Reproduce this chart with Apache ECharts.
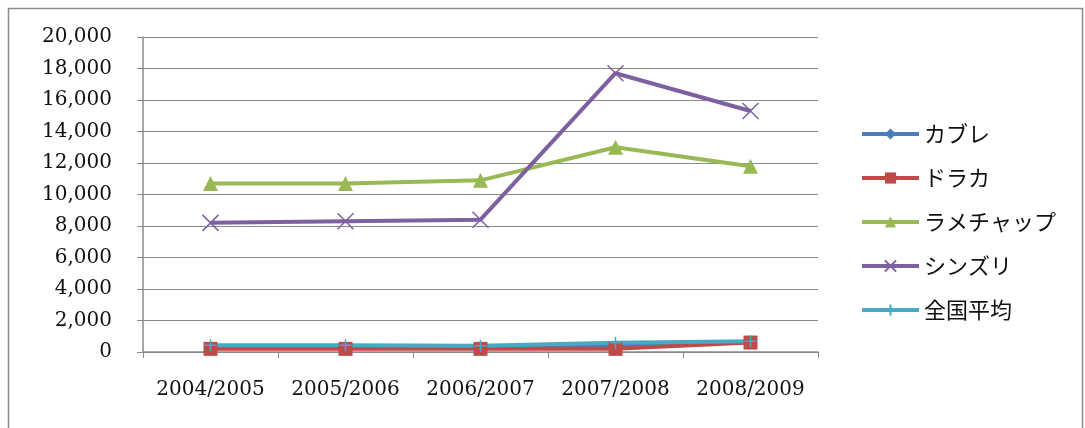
<!DOCTYPE html>
<html>
<head>
<meta charset="utf-8">
<script src="https://cdn.jsdelivr.net/npm/echarts@6/dist/echarts.min.js"></script>
<style>
html,body{margin:0;padding:0;background:#fff;}
#chart{width:1085px;height:428px;}
</style>
</head>
<body>
<div id="chart"></div>
<script>
const categories = ['2004/2005', '2005/2006', '2006/2007', '2007/2008', '2008/2009'];
const seriesNames = ['カブレ', 'ドラカ', 'ラメチャップ', 'シンズリ', '全国平均'];
const kabure = [350, 340, 330, 420, 650];
const doraka = [200, 200, 200, 200, 600];
const ramechap = [10700, 10700, 10900, 13000, 11800];
const sindhuli = [8200, 8300, 8400, 17700, 15300];
const national = [430, 430, 400, 580, 680];
const yTicks = [0, 20000, 2000];

const colors = ['#4A7EBB', '#BE4B48', '#98B954', '#7D60A0', '#46AAC5'];
const symbols = ['diamond', 'rect', 'triangle',
  'path://M0,0 L10,10 M10,0 L0,10', 'path://M5,0 L5,10 M0,5 L10,5'];
const symbolSizes = [10, 14, 15, 16, 12];
const dataSets = [kabure, doraka, ramechap, sindhuli, national];

const chart = echarts.init(document.getElementById('chart'), null, {renderer: 'canvas'});
const serif = '"DejaVu Serif", "Liberation Serif", serif';

// draw order: the low series last so 全国平均 sits on top
const order = [2, 3, 0, 1, 4];
const series = order.map(i => ({
  name: seriesNames[i],
  type: 'line',
  data: dataSets[i],
  symbol: symbols[i],
  symbolSize: symbolSizes[i],
  showAllSymbol: true,
  lineStyle: {color: colors[i], width: 4},
  itemStyle: {color: colors[i], borderColor: colors[i], borderWidth: (i === 3 || i === 4) ? 1.5 : 0},
  emphasis: {disabled: true},
  animation: false
}));

chart.setOption({
  animation: false,
  color: colors,
  graphic: [{
    type: 'rect',
    shape: {x: 8.5, y: 8.5, width: 1074, height: 430},
    style: {fill: 'none', stroke: '#8c8c8c', lineWidth: 1.5},
    silent: true
  }],
  grid: {left: 143, top: 37, right: 267, bottom: 76, containLabel: false},
  legend: {
    orient: 'vertical',
    left: 855,
    top: 118,
    itemWidth: 57,
    itemHeight: 14,
    itemGap: 22,
    data: seriesNames,
    lineStyle: {width: 4},
    textStyle: {fontFamily: '"Noto Sans CJK JP", sans-serif', fontSize: 22, lineHeight: 22, color: '#111'}
  },
  xAxis: {
    type: 'category',
    data: categories,
    boundaryGap: true,
    axisLine: {lineStyle: {color: '#8a8a8a', width: 1.5}},
    axisTick: {show: true, length: 6, lineStyle: {color: '#8a8a8a'}},
    axisLabel: {fontFamily: serif, fontSize: 20, color: '#111', margin: 28, interval: 0, hideOverlap: false}
  },
  yAxis: {
    type: 'value',
    min: yTicks[0],
    max: yTicks[1],
    interval: yTicks[2],
    axisLine: {show: true, lineStyle: {color: '#8a8a8a', width: 1.5}},
    axisTick: {show: true, length: 6, inside: false, lineStyle: {color: '#8a8a8a'}},
    splitLine: {lineStyle: {color: '#8a8a8a', width: 1.2}},
    axisLabel: {
      fontFamily: serif, fontSize: 20, color: '#111', margin: 31,
      formatter: v => v.toLocaleString('en-US')
    }
  },
  series: series
});
</script>
</body>
</html>
